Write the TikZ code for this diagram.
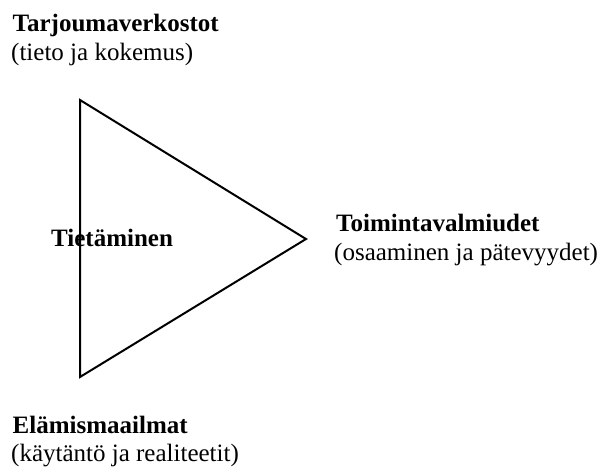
\documentclass[tikz,border=0pt]{standalone}
\usepackage{fontspec}
\setmainfont{Liberation Serif}
\begin{document}
\begin{tikzpicture}[x=1pt,y=-1pt,
  lbl/.style={anchor=base west,inner sep=0pt,font=\fontsize{25}{30}\selectfont},
  head/.style={lbl,font=\fontsize{25}{30}\selectfont\bfseries}]
\useasboundingbox (0,0) rectangle (600,468);
\coordinate (A) at (80,100);
\coordinate (B) at (80,377);
\coordinate (C) at (306,239);
\draw[line width=2pt,line join=miter] (A) -- (C) -- (B) -- cycle;
\node[head] (t1) at (12.5,31.5) {Tarjoumaverkostot};
\node[lbl] (t2) at (11,61) {(tieto ja kokemus)};
\node[head] (tm) at (51,246.5) {Tietäminen};
\node[head] (r1) at (336,231.5) {Toimintavalmiudet};
\node[lbl] (r2) at (334,260) {(osaaminen ja pätevyydet)};
\node[head] (b1) at (12.5,433) {Elämismaailmat};
\node[lbl] (b2) at (11,461) {(käytäntö ja realiteetit)};
\end{tikzpicture}
\end{document}
